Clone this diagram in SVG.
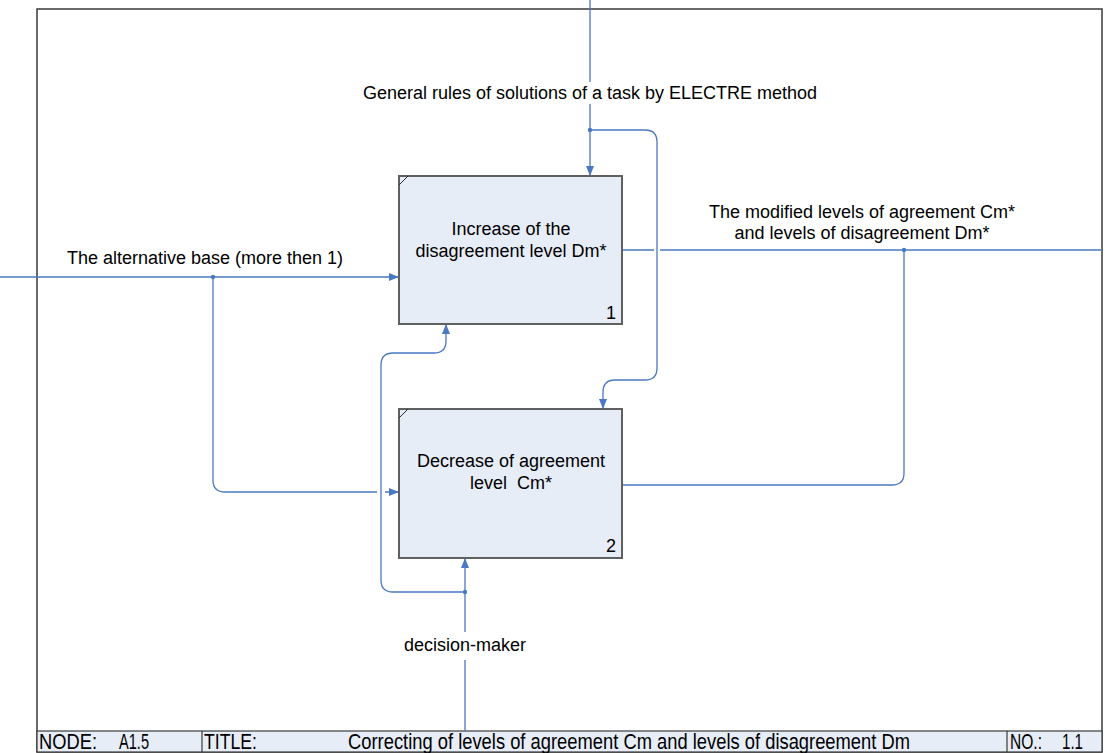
<svg xmlns="http://www.w3.org/2000/svg" width="1105" height="753" viewBox="0 0 1105 753">
<style>
.frame{fill:none;stroke:#3a3a3a;stroke-width:1.5}
.foot{fill:#e7edf7;stroke:#3a3a3a;stroke-width:1.2}
.box{fill:#e7edf7;stroke:#606060;stroke-width:2}
.corner{stroke:#303030;stroke-width:1}
.c{fill:none;stroke:#4a78c2;stroke-width:1.3}
.dot{fill:#4a78c2}
text{font-family:"Liberation Sans",Arial,sans-serif;fill:#000}
.lbl{font-size:18px}
.ft{font-size:18px}
</style>
<defs>
<marker id="ah" viewBox="0 0 10 10" refX="10" refY="5" markerWidth="10" markerHeight="10" markerUnits="userSpaceOnUse" orient="auto">
<path d="M0,1 L10,5 L0,9 z" fill="#4a78c2"/>
</marker>
</defs>
<rect x="0" y="0" width="1105" height="753" fill="#fff"/>
<rect class="frame" x="37" y="9" width="1065" height="743"/>
<g id="footer">
<rect class="foot" x="37" y="731" width="1065" height="21"/>
<line x1="202" y1="731" x2="202" y2="752" stroke="#3a3a3a" stroke-width="1.2"/>
<line x1="1007" y1="731" x2="1007" y2="752" stroke="#3a3a3a" stroke-width="1.2"/>
<text class="ft" transform="translate(39,749) scale(1,1.2)" x="0" y="0" textLength="58" lengthAdjust="spacingAndGlyphs">NODE:</text>
<text class="ft" transform="translate(119,749) scale(1,1.2)" x="0" y="0" textLength="30" lengthAdjust="spacingAndGlyphs">A1.5</text>
<text class="ft" transform="translate(204,749) scale(1,1.2)" x="0" y="0" textLength="53" lengthAdjust="spacingAndGlyphs">TITLE:</text>
<text class="ft" transform="translate(348,749) scale(1,1.2)" x="0" y="0" textLength="562" lengthAdjust="spacingAndGlyphs">Correcting of levels of agreement Cm and levels of disagreement Dm</text>
<text class="ft" transform="translate(1010,749) scale(1,1.2)" x="0" y="0" textLength="32" lengthAdjust="spacingAndGlyphs">NO.:</text>
<text class="ft" transform="translate(1062,749) scale(1,1.2)" x="0" y="0" textLength="21" lengthAdjust="spacingAndGlyphs">1.1</text>
</g>
<g id="connectors">
<path class="c" d="M590,0 V82 M590,104 V176" marker-end="url(#ah)"/>
<path class="c" d="M590,130 H645 Q657,130 657,142 V368 Q657,380 645,380 H615 Q603,380 603,392 V409" marker-end="url(#ah)"/>
<circle class="dot" cx="590" cy="130" r="2.2"/>
<path class="c" d="M0,277 H399" marker-end="url(#ah)"/>
<path class="c" d="M213,277 V480 Q213,492 225,492 H377 M385,492 H399" marker-end="url(#ah)"/>
<circle class="dot" cx="213" cy="277" r="2.2"/>
<path class="c" d="M622,250 H654 M660,250 H1102"/>
<path class="c" d="M904,250 V473 Q904,485 892,485 H622"/>
<circle class="dot" cx="904" cy="250" r="2.2"/>
<path class="c" d="M465,731 V660 M465,632 V558" marker-end="url(#ah)"/>
<path class="c" d="M465,592 H393 Q381,592 381,580 V365 Q381,353 393,353 H434 Q446,353 446,341 V324" marker-end="url(#ah)"/>
<circle class="dot" cx="465" cy="592" r="2.2"/>
</g>
<g id="labels">
<text class="lbl" x="590" y="99" text-anchor="middle">General rules of solutions of a task by ELECTRE method</text>
<text class="lbl" x="862" y="218" text-anchor="middle">The modified levels of agreement Cm*</text>
<text class="lbl" x="862" y="239" text-anchor="middle">and levels of disagreement Dm*</text>
<text class="lbl" x="205" y="264" text-anchor="middle">The alternative base (more then 1)</text>
<text class="lbl" x="465" y="651" text-anchor="middle">decision-maker</text>
</g>
<g id="node1">
<rect class="box" x="399" y="176" width="223" height="148"/>
<line class="corner" x1="399" y1="185" x2="408" y2="176"/>
<text class="lbl" x="511" y="235" text-anchor="middle">Increase of the</text>
<text class="lbl" x="511" y="257" text-anchor="middle">disagreement level Dm*</text>
<text class="lbl" x="616" y="319" text-anchor="end">1</text>
</g>
<g id="node2">
<rect class="box" x="399" y="409" width="223" height="149"/>
<line class="corner" x1="399" y1="418" x2="408" y2="409"/>
<text class="lbl" x="511" y="467" text-anchor="middle">Decrease of agreement</text>
<text class="lbl" x="511" y="489" text-anchor="middle" xml:space="preserve">level  Cm*</text>
<text class="lbl" x="616" y="552" text-anchor="end">2</text>
</g>
</svg>
